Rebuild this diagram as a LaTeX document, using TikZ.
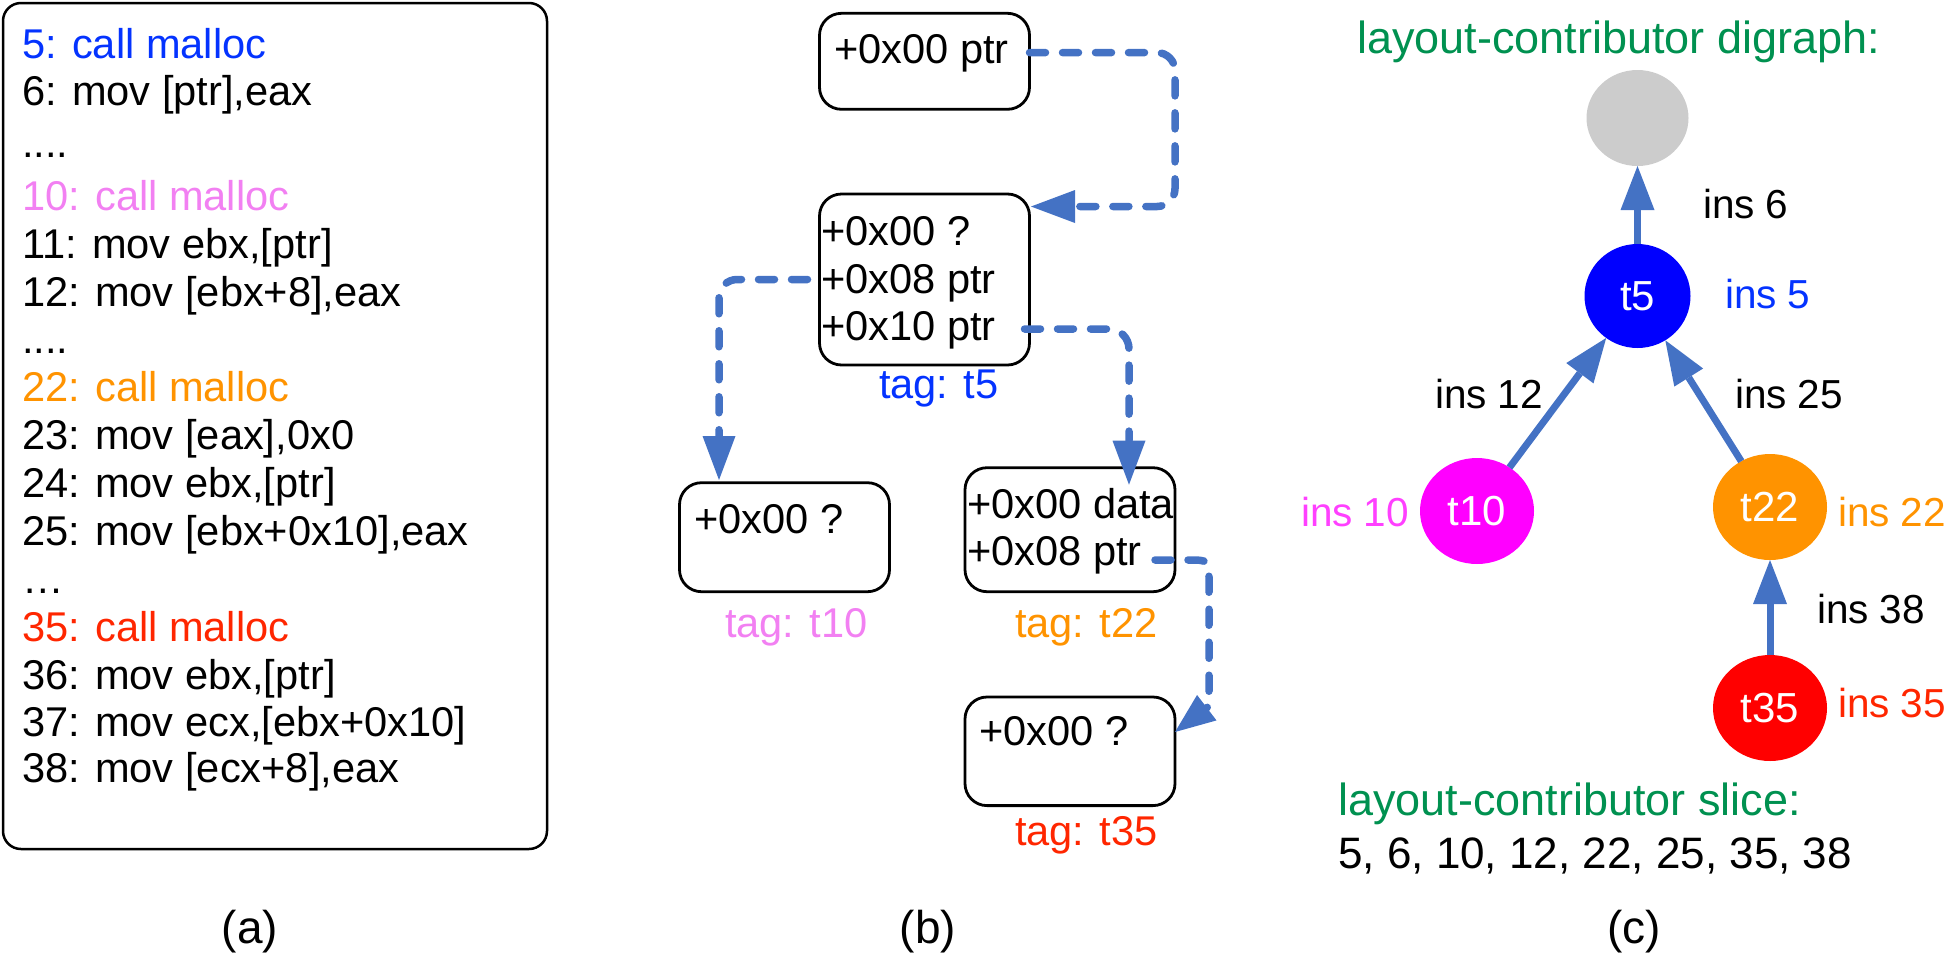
\documentclass[tikz,border=0pt]{standalone}
\usepackage{fontspec}
\setmainfont{Liberation Sans}
\usetikzlibrary{arrows.meta,shapes.geometric}
\definecolor{arrowblue}{RGB}{68,114,196}
\definecolor{tblue}{RGB}{4,51,255}
\definecolor{nblue}{RGB}{0,0,255}
\definecolor{tviolet}{RGB}{242,128,242}
\definecolor{tmagenta}{RGB}{255,64,255}
\definecolor{nmagenta}{RGB}{255,0,255}
\definecolor{torange}{RGB}{255,147,0}
\definecolor{tred}{RGB}{255,38,0}
\definecolor{nred}{RGB}{255,0,0}
\definecolor{tgreen}{RGB}{0,145,80}
\definecolor{ngray}{RGB}{204,204,204}
\begin{document}
\begin{tikzpicture}[x=1pt,y=-1pt,
  txt/.style={anchor=base west, inner sep=0pt, outer sep=0pt, font=\fontsize{41.6}{50}\selectfont},
  ctxt/.style={anchor=base west, inner sep=0pt, outer sep=0pt, font=\fontsize{40.5}{48}\selectfont},
  gtxt/.style={anchor=base west, inner sep=0pt, outer sep=0pt, text=tgreen, font=\fontsize{45}{54}\selectfont},
  lbl/.style={anchor=base, inner sep=0pt, font=\fontsize{46}{55}\selectfont},
  codebox/.style={draw, line width=2.5pt, rounded corners=18pt, inner sep=0pt},
  membox/.style={draw, line width=2.8pt, rounded corners=22pt, minimum width=210pt, inner sep=0pt, outer sep=0pt},
  dasharrow/.style={draw=arrowblue, line width=7.5pt, line cap=round, dash pattern=on 16pt off 17pt,
     -{Triangle[length=44pt,width=33pt,line width=0pt]}},
  edgearrow/.style={draw=arrowblue, line width=7pt, -{Triangle[length=44pt,width=34pt,line width=0pt]}},
  vnode/.style={ellipse, inner sep=0pt, outer sep=0pt, text=white, font=\fontsize{42}{50}\selectfont},
]
\useasboundingbox (0,0) rectangle (1947,954);

% ---------- (a) ----------
\node[codebox, minimum width=544pt, minimum height=846pt] (codebox) at (275,426) {};
\node[txt, text=tblue] (c5) at (22,58) {5: call malloc};
\node[txt] (c6) at (22,105) {6: mov [ptr],eax};
\node[txt] (d1) at (22,157) {....};
\node[txt, text=tviolet] (c10) at (22,210) {10: call malloc};
\node[txt] (c11) at (22,258) {11: mov ebx,[ptr]};
\node[txt] (c12) at (22,306) {12: mov [ebx+8],eax};
\node[txt] (d2) at (22,353) {....};
\node[txt, text=torange] (c22) at (22,401) {22: call malloc};
\node[txt] (c23) at (22,449) {23: mov [eax],0x0};
\node[txt] (c24) at (22,497) {24: mov ebx,[ptr]};
\node[txt] (c25) at (22,545) {25: mov [ebx+0x10],eax};
\node[txt] (d3) at (22,593) {…};
\node[txt, text=tred] (c35) at (22,641) {35: call malloc};
\node[txt] (c36) at (22,689) {36: mov ebx,[ptr]};
\node[txt] (c37) at (22,736) {37: mov ecx,[ebx+0x10]};
\node[txt] (c38) at (22,782) {38: mov [ecx+8],eax};
\node[lbl] (la) at (250,943) {(a)};

% ---------- (b) ----------
\node[membox, minimum height=96pt] (bA) at (924.5,61.3) {};
\node[txt] (tA) at (834,63.3) {+0x00 ptr};
\node[membox, minimum height=171pt] (bB) at (924.5,279.5) {};
\node[txt] (tB1) at (821,245) {+0x00 ?};
\node[txt] (tB2) at (821,293) {+0x08 ptr};
\node[txt] (tB3) at (821,340) {+0x10 ptr};
\node[txt, text=tblue] (tagB) at (879,398) {tag: t5};
\node[membox, minimum height=109pt] (bC) at (784.5,537.2) {};
\node[txt] (tC) at (694,533) {+0x00 ?};
\node[txt, text=tviolet] (tagC) at (725,637) {tag: t10};
\node[membox, minimum height=124pt] (bD) at (1070,529.7) {};
\node[txt] (tD1) at (967,518) {+0x00 data};
\node[txt] (tD2) at (967,565) {+0x08 ptr};
\node[txt, text=torange] (tagD) at (1015,637) {tag: t22};
\node[membox, minimum height=108.6pt] (bE) at (1070,751.3) {};
\node[txt] (tE) at (979,745) {+0x00 ?};
\node[txt, text=tred] (tagE) at (1015,845) {tag: t35};
\node[lbl] (lb) at (928,943) {(b)};

\coordinate (kAB) at (1175,130);
\draw[dasharrow, rounded corners=18pt] ([yshift=8.7pt]bA.east) -| (kAB) |- ([xshift=1.5pt,yshift=73pt]bB.east);
\draw[dasharrow, rounded corners=18pt] ([xshift=-12pt]bB.west) -| ([xshift=39.5pt,yshift=2.7pt]bC.north west);
\draw[dasharrow, rounded corners=20pt] ([xshift=-5pt,yshift=-49.5pt]bB.east) -| ([xshift=164pt,yshift=-17pt]bD.north west);
\coordinate (kDE1) at (1188,560);
\coordinate (kDEc) at (1209,560);
\coordinate (kDE2) at (1209,581);
\coordinate (kDE) at (1209,706);
\draw[dasharrow, -{Triangle[length=40pt,width=32pt,line width=0pt]}] ([xshift=-20pt,yshift=-30.3pt]bD.east) -- (kDE1) .. controls (kDEc) .. (kDE2) -- (kDE) -- ([yshift=19.3pt]bE.east);

% ---------- (c) ----------
\node[gtxt] (dg) at (1357,53) {layout-contributor digraph:};
\node[vnode, fill=ngray, minimum width=102pt, minimum height=96pt] (g) at (1637.5,118) {};
\node[vnode, fill=nblue, minimum width=106pt, minimum height=104pt] (t5) at (1637.5,296) {t5};
\node[vnode, fill=nmagenta, minimum width=114pt, minimum height=106pt] (t10) at (1477,511) {t10};
\node[vnode, fill=torange, minimum width=114pt, minimum height=106pt] (t22) at (1770,507) {t22};
\node[vnode, fill=nred, minimum width=114pt, minimum height=106pt] (t35) at (1770,708) {t35};

\draw[edgearrow] (t5) -- (g);
\draw[edgearrow] (t10) -- (t5);
\draw[edgearrow] (t22) -- (t5);
\draw[edgearrow] (t35) -- (t22);

\node[ctxt] (i6) at (1703,218) {ins 6};
\node[ctxt, text=tblue] (i5) at (1725,308) {ins 5};
\node[ctxt] (i12) at (1435,408) {ins 12};
\node[ctxt] (i25) at (1735,408) {ins 25};
\node[ctxt, text=tmagenta] (i10) at (1301,526) {ins 10};
\node[ctxt, text=torange] (i22) at (1838,526) {ins 22};
\node[ctxt] (i38) at (1817,623) {ins 38};
\node[ctxt, text=tred] (i35) at (1838,717) {ins 35};
\node[gtxt] (sl) at (1338,815) {layout-contributor slice:};
\node[anchor=base west, inner sep=0pt, font=\fontsize{44}{52}\selectfont] (nums) at (1338,868) {5, 6, 10, 12, 22, 25, 35, 38};
\node[lbl] (lc) at (1634,943) {(c)};
\end{tikzpicture}
\end{document}
